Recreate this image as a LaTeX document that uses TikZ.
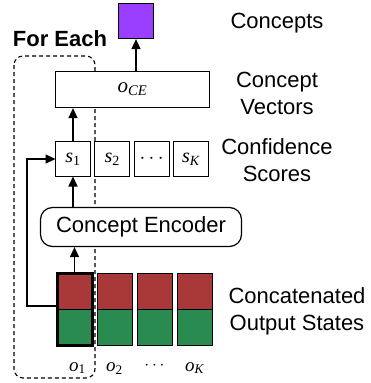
\documentclass[tikz,border=0pt]{standalone}
\usepackage{fontspec}
\setmainfont{Liberation Sans}
\newfontfamily\serifit{Liberation Serif}
\usetikzlibrary{arrows.meta, positioning}
\definecolor{stateRed}{HTML}{A93838}
\definecolor{stateGreen}{HTML}{2A8B50}
\definecolor{conceptPurple}{HTML}{9A3FFF}
\newcommand{\symsub}[2]{{\serifit\itshape #1}\textsubscript{\serifit #2}}

\begin{document}
\begin{tikzpicture}[
    x=1pt, y=1pt,
    >={Triangle[length=10pt, width=9pt]},
    cell/.style={draw, line width=1pt, minimum width=35pt, minimum height=36pt, inner sep=0pt, outer sep=0pt},
    redcell/.style={cell, fill=stateRed},
    greencell/.style={cell, fill=stateGreen},
    scorebox/.style={cell, fill=white, minimum height=35pt, line width=1.2pt, font=\fontsize{20}{24}\selectfont},
    sidetext/.style={align=center, font=\fontsize{22}{27}\selectfont},
    statetext/.style={inner sep=0pt, font=\fontsize{19}{23}\selectfont},
    flow/.style={->, line width=1.4pt},
    loopbox/.style={draw, dash pattern=on 4pt off 3pt, line width=1.1pt, rounded corners=9pt}
  ]
    \useasboundingbox (0,0) rectangle (370,-383);

    % for-each region
    \draw[loopbox] (14,-56) rectangle (95,-378);
    \node[font=\fontsize{22}{27}\selectfont\bfseries] (foreach) at (60,-39) {For Each};

    % output states
    \node[redcell] (o1r) at (74.5,-291) {};
    \node[greencell, below=0pt of o1r] (o1g) {};
    \node[redcell, right=5pt of o1r] (o2r) {};
    \node[greencell, below=0pt of o2r] (o2g) {};
    \node[redcell, right=5pt of o2r] (o3r) {};
    \node[greencell, below=0pt of o3r] (o3g) {};
    \node[redcell, right=5pt of o3r] (oKr) {};
    \node[greencell, below=0pt of oKr] (oKg) {};
    \draw[line width=3pt] (o1r.north west) rectangle (o1g.south east);

    \node[statetext, below=17pt of o1g, xshift=3pt] (o1lab) {\symsub{o}{1}};
    \node[statetext, below=17pt of o2g] (o2lab) {\symsub{o}{2}};
    \node[statetext, below=17pt of o3g] (o3lab) {$\cdots$};
    \node[statetext, below=17pt of oKg] (oKlab) {\symsub{o}{\itshape K}};

    % encoder, scores, vectors
    \node[draw, line width=1.2pt, rounded corners=12pt, fill=white, minimum width=201pt, minimum height=39pt,
          font=\fontsize{22}{27}\selectfont] (enc) at (141,-227) {Concept Encoder};
    \node[scorebox] (s1) at (73,-159) {\symsub{s}{1}};
    \node[scorebox, right=4.3pt of s1] (s2) {\symsub{s}{2}};
    \node[scorebox, right=4.3pt of s2] (s3) {$\cdots$};
    \node[scorebox, right=4.3pt of s3] (sK) {\symsub{s}{\itshape K}};
    \node[draw, line width=1.2pt, fill=white, minimum width=154pt, minimum height=36pt,
          font=\fontsize{21}{25}\selectfont] (oce) at (132.5,-89.5) {\symsub{o}{\itshape CE}};
    \node[draw, line width=1.2pt, fill=conceptPurple, minimum width=35pt, minimum height=35pt] (cpt) at (136,-21) {};

    % right-hand labels
    \node[sidetext] (cptlab) at (277,-23) {Concepts};
    \node[sidetext] (ocelab) at (277,-93.5) {Concept\\Vectors};
    \node[sidetext] (slab) at (277,-160) {Confidence\\Scores};
    \node[sidetext] (olab) at (297,-311.5) {Concatenated\\Output States};

    \draw[flow] (o1r.north) -- (o1r.north |- enc.south);
    \draw[flow] (s1.south |- enc.north) -- (s1.south);
    \draw[flow] (s1.north) -- (s1.north |- oce.south);
    \draw[flow] (cpt.south |- oce.north) -- (cpt.south);
    \draw[flow, line width=1.2pt] ([yshift=3pt]o1r.south west) -- ++(-30,0) |- (s1.west);
  \end{tikzpicture}
\end{document}
